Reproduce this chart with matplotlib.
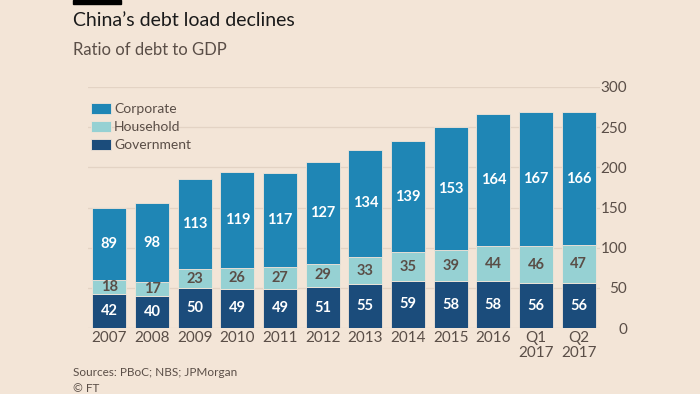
import matplotlib.pyplot as plt
import numpy as np

plt.rcParams['font.family'] = ['Lato', 'DejaVu Sans']

# dados
periods = ['2007', '2008', '2009', '2010', '2011', '2012', '2013', '2014',
           '2015', '2016', 'Q1\n2017', 'Q2\n2017']
government = [42, 40, 50, 49, 49, 51, 55, 59, 58, 58, 56, 56]
household = [18, 17, 23, 26, 27, 29, 33, 35, 39, 44, 46, 47]
corporate = [89, 98, 113, 119, 117, 127, 134, 139, 153, 164, 167, 166]

bg = '#F3E5D7'
c_gov = '#1B4C7B'
c_hh = '#96D1D3'
c_corp = '#1F86B5'
txt = '#5A4E47'

fig = plt.figure(figsize=(7, 3.94), dpi=100, facecolor=bg)
ax = fig.add_axes([88/700, 1-328/394, 512/700, 241/394], facecolor=bg)

x = np.arange(len(periods))
gov = np.array(government)
hh = np.array(household)
corp = np.array(corporate)

w = 0.8
ax.bar(x, gov, w, color=c_gov, edgecolor=bg, linewidth=0.6, label='Government', zorder=2)
ax.bar(x, hh, w, bottom=gov, color=c_hh, edgecolor=bg, linewidth=0.6, label='Household', zorder=2)
ax.bar(x, corp, w, bottom=gov+hh, color=c_corp, edgecolor=bg, linewidth=0.6, label='Corporate', zorder=2)

# valores dentro das barras
for i in range(len(x)):
    ax.text(x[i], gov[i]/2, str(gov[i]), ha='center', va='center', color='white',
            fontsize=10.5, fontweight='bold', zorder=3)
    ax.text(x[i], gov[i] + hh[i]/2, str(hh[i]), ha='center', va='center', color=txt,
            fontsize=10.5, fontweight='bold', zorder=3)
    ax.text(x[i], gov[i] + hh[i] + corp[i]/2, str(corp[i]), ha='center', va='center',
            color='white', fontsize=10.5, fontweight='bold', zorder=3)

ax.set_xlim(-0.5, len(x) - 0.5)
ax.set_ylim(0, 300)
ax.set_yticks(range(0, 301, 50))
ax.yaxis.tick_right()
ax.tick_params(axis='y', length=0, labelsize=11, labelcolor=txt, pad=19.5)
for lbl in ax.get_yticklabels():
    lbl.set_horizontalalignment('right')
ax.set_xticks(x)
ax.set_xticklabels(periods, fontsize=11, color=txt, linespacing=1.15)
ax.tick_params(axis='x', length=0, pad=2)
ax.grid(axis='y', color='#E3D3C4', linewidth=0.9, zorder=0)
for s in ax.spines.values():
    s.set_visible(False)

h, l = ax.get_legend_handles_labels()
leg = fig.legend(h[::-1], l[::-1], loc='upper left', bbox_to_anchor=(85/700, 1-97/394),
                 frameon=False, fontsize=10, handlelength=1.5, handleheight=0.9,
                 handletextpad=0.2, labelspacing=0.4, borderaxespad=0)
for t in leg.get_texts():
    t.set_color(txt)

fig.patches.append(plt.Rectangle((73/700, 1-4/394), 48/700, 4/394, transform=fig.transFigure,
                                 color='black'))
fig.text(73/700, 1-20/394, 'China\u2019s debt load declines', fontsize=14, color='#1a1a1a', va='center')
fig.text(73/700, 1-50/394, 'Ratio of debt to GDP', fontsize=12, color=txt, va='center')
fig.text(73/700, 1-373/394, 'Sources: PBoC; NBS; JPMorgan', fontsize=8.5, color=txt, va='center')
fig.text(73/700, 1-388/394, '\u00a9 FT', fontsize=8.5, color=txt, va='center')

plt.savefig('out.png', dpi=100, facecolor=bg)
